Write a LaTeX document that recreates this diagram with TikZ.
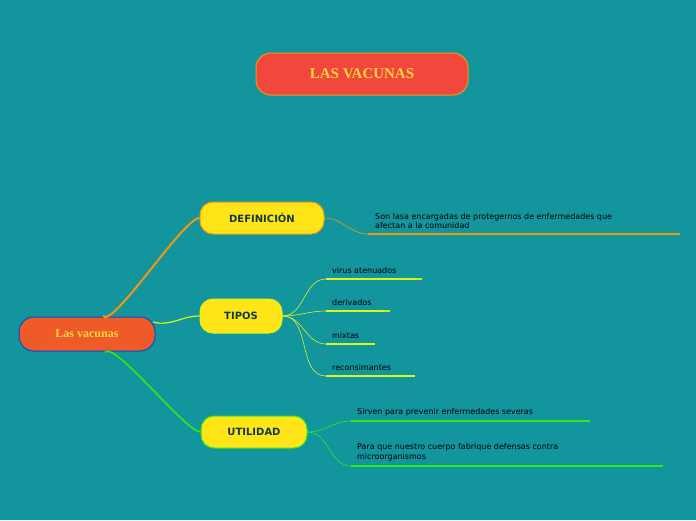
\documentclass[tikz,border=0pt]{standalone}
\usepackage{fontspec}
\setsansfont{DejaVu Sans}
\newfontfamily\titlefont{Liberation Serif}
\usetikzlibrary{positioning}
\definecolor{bgteal}{HTML}{13959E}
\definecolor{titlered}{HTML}{F2473C}
\definecolor{rootred}{HTML}{EE5A28}
\definecolor{boxyellow}{HTML}{FFE418}
\definecolor{txtdark}{HTML}{103A3C}
\definecolor{lineorange}{HTML}{F0980E}
\definecolor{lineyel}{HTML}{D8F51A}
\definecolor{linegreen}{HTML}{2EEA18}
\definecolor{txtyel}{HTML}{FFD83A}

\tikzset{
  mainbox/.style={rounded corners=15pt, line width=1pt, font=\titlefont\bfseries, text=txtyel},
  topicbox/.style={rounded corners=13pt, fill=boxyellow, line width=1pt, text=txtdark, font=\sffamily\bfseries\fontsize{10}{12}\selectfont},
  leaftext/.style={anchor=south west, align=left, text=black, font=\sffamily\fontsize{8}{9.5}\selectfont, inner sep=1pt},
}

\begin{document}
\begin{tikzpicture}[x=1pt, y=-1pt]
    \fill[bgteal] (0,0) rectangle (696,520);
    \useasboundingbox (0,0) rectangle (696,520);
    % main nodes
    \node[mainbox, fill=titlered, draw=lineorange, minimum width=212pt, minimum height=42pt, font=\titlefont\bfseries\fontsize{15}{18}\selectfont] (title) at (362,74) {LAS VACUNAS};
    \node[mainbox, fill=rootred, draw=blue!50!bgteal, minimum width=136pt, minimum height=34pt, font=\titlefont\bfseries\fontsize{12}{14}\selectfont] (root) at (87,334) {Las vacunas};
    \node[topicbox, draw=lineorange, minimum width=124pt, minimum height=32pt] (def) at (262,218) {DEFINICIÓN};
    \node[topicbox, draw=lineyel, minimum width=82pt, minimum height=34pt] (tipos) at (241,316) {TIPOS};
    \node[topicbox, draw=linegreen, minimum width=106pt, minimum height=32pt] (util) at (254,432) {UTILIDAD};
    % branches from the root
    \draw[lineorange, line width=2pt] (103,316) to[out=-55, in=180, looseness=0.3] (def.west);
    \draw[lineyel, line width=1.2pt] (153,322) to[out=-15, in=180] (tipos.west);
    \draw[linegreen, line width=1.6pt] (105,352) to[out=45, in=180, looseness=0.3] (util.west);
    % leaves
    \coordinate (d1a) at (368,234); \coordinate (d1b) at (680,234);
    \node[leaftext] (d1) at (374,230) {Son lasa encargadas de protegernos de enfermedades que\\afectan a la comunidad};
    \draw[lineorange, line width=0.6pt] (def.east) to[out=0, in=180] (d1a);
    \draw[lineorange, line width=2pt] (d1a) -- (d1b);
    \foreach \name/\txt/\yy/\xe in {t1/virus atenuados/279/422, t2/derivados/311/390, t3/mixtas/344/375, t4/reconsimantes/376/415} {
      \coordinate (\name a) at (326,\yy);
      \coordinate (\name b) at (\xe,\yy);
      \node[leaftext] (\name) at (331,\yy-4) {\txt};
      \draw[lineyel, line width=0.6pt] (tipos.east) to[out=0, in=180] (\name a);
      \draw[lineyel, line width=2pt] (\name a) -- (\name b);
    }
    \coordinate (u1a) at (351,421); \coordinate (u1b) at (590,421);
    \node[leaftext] (u1) at (356,417) {Sirven para prevenir enfermedades severas};
    \coordinate (u2a) at (351,466); \coordinate (u2b) at (663,466);
    \node[leaftext] (u2) at (356,462) {Para que nuestro cuerpo fabrique defensas contra\\microorganismos};
    \draw[linegreen, line width=0.6pt] (util.east) to[out=0, in=180] (u1a);
    \draw[linegreen, line width=0.6pt] (util.east) to[out=0, in=180] (u2a);
    \draw[linegreen, line width=2pt] (u1a) -- (u1b);
    \draw[linegreen, line width=2pt] (u2a) -- (u2b);
\end{tikzpicture}
\end{document}
